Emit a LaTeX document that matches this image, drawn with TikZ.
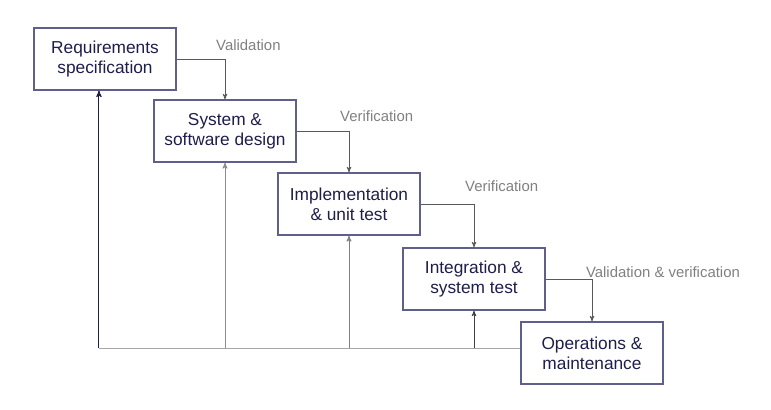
\documentclass[tikz,border=0pt]{standalone}
\usepackage{fontspec}
\setmainfont{Liberation Sans}
\usetikzlibrary{arrows}
\definecolor{borde}{RGB}{95,95,140}
\definecolor{texto}{RGB}{30,30,75}
\definecolor{gris}{RGB}{128,128,128}

\begin{document}
\begin{tikzpicture}[x=0.025cm,y=-0.025cm,>=stealth',
 fase/.style={draw=borde,line width=0.8pt,fill=white,text=texto,align=center,
   minimum width=3.55cm,minimum height=1.55cm,font=\fontsize{12.3}{14.2}\selectfont},
 etiq/.style={text=gris,font=\fontsize{10.6}{12}\selectfont,anchor=south west,inner sep=1pt,xshift=-7.5pt},
 baja/.style={->,draw=black!65,line width=0.5pt},
 vuelta/.style={draw=black!35,line width=0.6pt}]
 \useasboundingbox (0,0) rectangle (771,409);
% fases del modelo en cascada
 \node[fase] (req) at (105,59) {Requirements\\specification};
 \node[fase] (sys) at (225,131) {System \&\\software design};
 \node[fase] (imp) at (349,204) {Implementation\\\& unit test};
 \node[fase] (int) at (474,279) {Integration \&\\system test};
 \node[fase] (ops) at (592,353) {Operations \&\\maintenance};
% flechas hacia abajo
 \draw[baja] (req.east) -| node[etiq,pos=0.5,yshift=4.5pt] {Validation} (sys.north);
 \draw[baja] (sys.east) -| node[etiq,pos=0.5,yshift=5.5pt] {Verification} (imp.north);
 \draw[baja] (imp.east) -| node[etiq,pos=0.5,yshift=7.5pt] {Verification} (int.north);
 \draw[baja] (int.east) -| node[etiq,pos=0.5,xshift=2pt,yshift=0pt] {Validation \& verification} (ops.north);
% retorno desde operations
 \coordinate (base) at ([yshift=3.5pt]ops.west);
 \coordinate (r0) at ([xshift=-4.3pt]req.south);
 \draw[vuelta] (base) -- (base -| r0);
 \draw[->,draw=texto,line width=0.7pt] (base -| r0) -- (r0);
 \draw[->,vuelta,draw=black!45] (base -| sys.south) -- (sys.south);
 \draw[->,vuelta,draw=black!50] (base -| imp.south) -- (imp.south);
 \draw[->,draw=black!75,line width=0.5pt] (base -| int.south) -- (int.south);
\end{tikzpicture}
\end{document}
